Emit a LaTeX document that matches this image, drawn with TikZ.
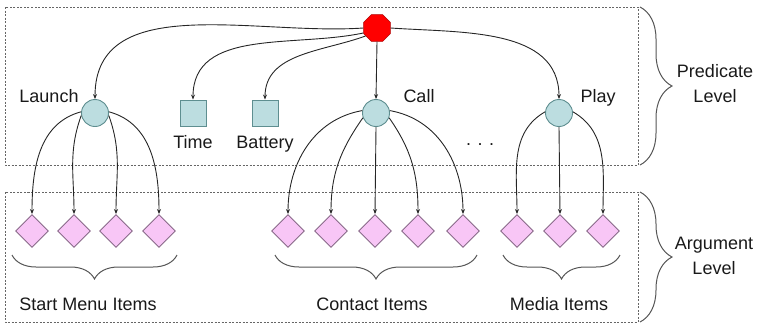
\documentclass[tikz,border=0pt]{standalone}
\usepackage{fontspec}
\setmainfont{Liberation Sans}
\usetikzlibrary{shapes.geometric,arrows.meta,decorations.pathreplacing}
\definecolor{predfill}{HTML}{BCDDE0}
\definecolor{preddraw}{HTML}{5E8E90}
\definecolor{argfill}{HTML}{F8C6F6}
\definecolor{argdraw}{HTML}{8A6A8A}
\definecolor{rootdraw}{HTML}{B00000}
\definecolor{boxgray}{HTML}{666666}
\definecolor{bracegray}{HTML}{555555}
\tikzset{
  rootnode/.style={regular polygon, regular polygon sides=8, minimum size=29pt, inner sep=0pt, fill=red, draw=rootdraw, line width=0.6pt},
  prednode/.style={circle, minimum size=27pt, inner sep=0pt, fill=predfill, draw=preddraw, line width=0.9pt},
  leafnode/.style={rectangle, minimum size=26pt, inner sep=0pt, fill=predfill, draw=preddraw, line width=0.9pt},
  argnode/.style={diamond, minimum width=33pt, minimum height=33pt, inner sep=0pt, fill=argfill, draw=argdraw, line width=0.9pt},
  levelbox/.style={draw=boxgray, dash pattern=on 2pt off 1.5pt, line width=0.9pt},
  conn/.style={-{Stealth[length=5pt,width=4pt]}, line width=0.9pt, black!85},
  lbl/.style={inner sep=0pt, font=\fontsize{18}{25}\selectfont, text=black!90},
  bracebelow/.style={draw=bracegray, line width=1pt, decorate, decoration={brace, mirror, amplitude=24pt}},
  braceright/.style={draw=bracegray, line width=1pt, decorate, decoration={brace, amplitude=32pt}},
}
\begin{document}
\begin{tikzpicture}[x=1pt, y=-1pt]
\useasboundingbox (0,0) rectangle (765,325);
% level boxes
\draw[levelbox] (5,7) rectangle (638,165);
\draw[levelbox] (5,192) rectangle (638,322);
% nodes
\node[rootnode] (root) at (377,28) {};
\node[prednode] (launch) at (95,113) {};
\node[leafnode] (time) at (193,113) {};
\node[leafnode] (battery) at (265,113) {};
\node[prednode] (call) at (376,113) {};
\node[prednode] (play) at (559,113) {};
% argument nodes
\foreach \n/\x in {s1/32, s2/74, s3/116, s4/159, c1/288, c2/331, c3/375, c4/418, c5/463, m1/517, m2/560, m3/603}
  \node[argnode] (\n) at (\x,231) {};
% labels
\node[lbl, anchor=base] (launchlbl) at (49,102) {Launch};
\node[lbl, anchor=base] (calllbl) at (419,102) {Call};
\node[lbl, anchor=base] (playlbl) at (598,102) {Play};
\node[lbl, anchor=base] (timelbl) at (193,148) {Time};
\node[lbl, anchor=base] (batterylbl) at (265,148) {Battery};
\node[lbl, anchor=base] (dots) at (480,145) {.\hspace{6.5pt}.\hspace{6.5pt}.};
\node[lbl, anchor=base] (startlbl) at (88,310) {Start Menu Items};
\node[lbl, anchor=base] (contactlbl) at (372,310) {Contact Items};
\node[lbl, anchor=base] (medialbl) at (559,310) {Media Items};
\node[lbl, align=center] (predlvl) at (715,84) {Predicate\\Level};
\node[lbl, align=center] (arglvl) at (714,256) {Argument\\Level};
% root connectors
\draw[conn] (root.west) to[out=184, in=90] (launch.north);
\draw[conn] (root.200) to[out=192, in=90] (time.north);
\draw[conn] (root.215) to[out=200, in=90] (battery.north);
\draw[conn] (root.south) -- (call.north);
\draw[conn] (root.east) to[out=-4, in=90] (play.north);
% launch connectors
\draw[conn] (launch.175) to[out=195, in=90] (s1.north);
\draw[conn] (launch.190) to[out=250, in=90] (s2.north);
\draw[conn] (launch.-10) to[out=-70, in=90] (s3.north);
\draw[conn] (launch.5) to[out=-15, in=90] (s4.north);
% call connectors
\draw[conn] (call.170) to[out=190, in=90] (c1.north);
\draw[conn] (call.200) to[out=235, in=90] (c2.north);
\draw[conn] (call.south) -- (c3.north);
\draw[conn] (call.-20) to[out=-55, in=90] (c4.north);
\draw[conn] (call.10) to[out=-10, in=90] (c5.north);
% play connectors
\draw[conn] (play.175) to[out=210, in=90] (m1.north);
\draw[conn] (play.south) -- (m2.north);
\draw[conn] (play.5) to[out=-30, in=90] (m3.north);
% braces
\draw[bracebelow] (12,255) -- (177,255);
\draw[bracebelow] (275,255) -- (477,255);
\draw[bracebelow] (503,255) -- (620,255);
\draw[braceright] (640,7) -- (640,165);
\draw[braceright] (640,192) -- (640,322);
\end{tikzpicture}
\end{document}
